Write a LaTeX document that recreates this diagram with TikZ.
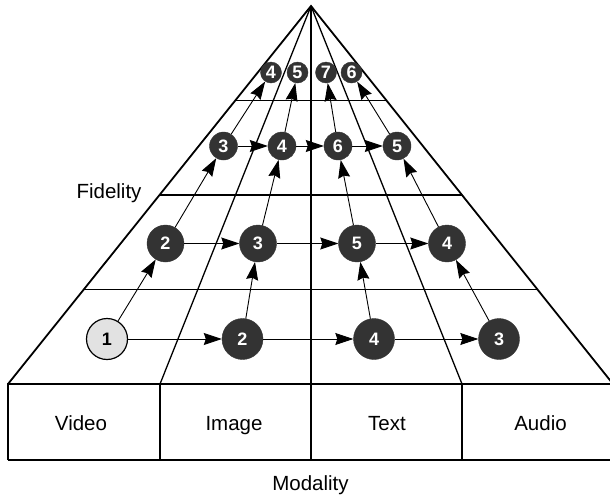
\documentclass[tikz,border=0pt]{standalone}
\usepackage{fontspec}
\setmainfont{Liberation Sans}
\usetikzlibrary{arrows.meta,calc}
\definecolor{darkg}{HTML}{333333}
\definecolor{lightg}{HTML}{E2E2E2}
\begin{document}
\begin{tikzpicture}[x=1pt,y=-1pt,
  frame/.style={line width=1.8pt},
  innerln/.style={line width=1.3pt},
  conn/.style={line width=0.9pt,-{Stealth[length=18pt,width=12pt,inset=2pt]}},
  numfont/.style={font=\bfseries\fontsize{18}{18}\selectfont},
  dnode/.style={circle,fill=darkg,draw=darkg,text=white,numfont,inner sep=0pt},
  lnode/.style={circle,fill=lightg,draw=black,line width=1.2pt,numfont,inner sep=0pt},
  r1/.style={minimum size=41pt},
  r2/.style={minimum size=37pt},
  r3/.style={minimum size=28pt},
  r4/.style={minimum size=21pt},
  lbl/.style={font=\fontsize{20.5}{24}\selectfont,anchor=base,inner sep=0pt}
]
\useasboundingbox (0,0) rectangle (610,499);
\clip (0,0) rectangle (610,499);
\coordinate (A) at (311,6);
\coordinate (BL) at (8,384);
\coordinate (BR) at (613,384);
\coordinate (B1) at (160,384);
\coordinate (B2) at (311,384);
\coordinate (B3) at (462,384);
\coordinate (C0) at (8,460);
\coordinate (C1) at (160,460);
\coordinate (C2) at (311,460);
\coordinate (C3) at (462,460);
\coordinate (C4) at (613,460);
% pyramid
\draw[frame] (BL) -- (A) -- (BR);
\draw[innerln] (A) -- (B1);
\draw[innerln] (A) -- (B3);
\draw[frame] (A) -- (C2);
\foreach \f in {0.25,0.5,0.75}
  \draw[frame] ($(BL)!\f!(A)$) -- ($(BR)!\f!(A)$);
% boxes
\draw[frame] (C0) -- (BL) -- (BR);
\draw[frame] (C0) -- (C4);
\draw[frame] (B1) -- (C1);
\draw[frame] (B3) -- (C3);
% labels
\node[lbl] (video) at (81,430) {Video};
\node[lbl] (image) at (234,430) {Image};
\node[lbl] (text) at (387,430) {Text};
\node[lbl] (audio) at (540.5,430) {Audio};
\node[lbl] (fid) at (109,198) {Fidelity};
\node[lbl] (mod) at (310.5,490.5) {Modality};
% level 1
\node[lnode,r1] (n11) at (107,339) {1};
\node[dnode,r1] (n12) at (242.5,339) {2};
\node[dnode,r1] (n13) at (374,339) {4};
\node[dnode,r1] (n14) at (499,339) {3};
% level 2
\node[dnode,r2] (n21) at (165.5,243.5) {2};
\node[dnode,r2] (n22) at (258,243.5) {3};
\node[dnode,r2] (n23) at (357,243.5) {5};
\node[dnode,r2] (n24) at (447,243.5) {4};
% level 3
\node[dnode,r3] (n31) at (223.5,146) {3};
\node[dnode,r3] (n32) at (282,146) {4};
\node[dnode,r3] (n33) at (338,146) {6};
\node[dnode,r3] (n34) at (397,146) {5};
% level 4
\node[dnode,r4] (n41) at (271,72.5) {4};
\node[dnode,r4] (n42) at (297.5,72.5) {5};
\node[dnode,r4] (n43) at (326,72.5) {7};
\node[dnode,r4] (n44) at (351.5,72.5) {6};
% connectors
\draw[conn] (n11) -- (n12);
\draw[conn] (n12) -- (n13);
\draw[conn] (n13) -- (n14);
\draw[conn] (n21) -- (n22);
\draw[conn] (n22) -- (n23);
\draw[conn] (n23) -- (n24);
\draw[conn] (n31) -- (n32);
\draw[conn] (n32) -- (n33);
\draw[conn] (n33) -- (n34);
\draw[conn] (n11) -- (n21);
\draw[conn] (n12) -- (n22);
\draw[conn] (n13) -- (n23);
\draw[conn] (n14) -- (n24);
\draw[conn] (n21) -- (n31);
\draw[conn] (n22) -- (n32);
\draw[conn] (n23) -- (n33);
\draw[conn] (n24) -- (n34);
\draw[conn] (n31) -- (n41);
\draw[conn] (n32) -- (n42);
\draw[conn] (n33) -- (n43);
\draw[conn] (n34) -- (n44);
\end{tikzpicture}
\end{document}
